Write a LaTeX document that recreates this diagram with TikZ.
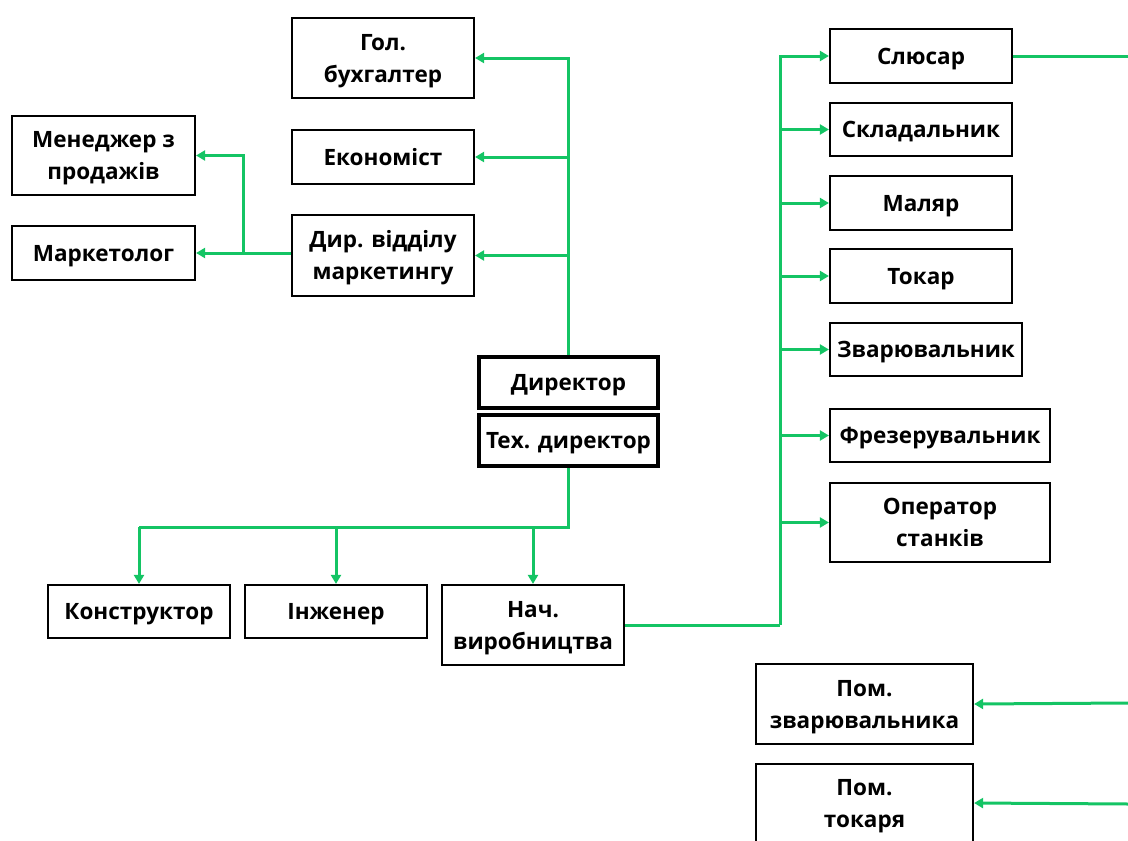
\documentclass[tikz,border=0pt]{standalone}
\usepackage{fontspec}
\setmainfont{Open Sans}
\usetikzlibrary{arrows.meta}
\definecolor{lgreen}{RGB}{20,196,100}
\tikzset{
  box/.style={draw=black, line width=2.2pt, fill=white, align=center, inner sep=0pt,
    font=\fontsize{22.5}{32}\selectfont\bfseries},
  one/.style={box, text height=17pt, text depth=1pt},
  two/.style={box, text height=49pt, text depth=1pt},
  bigbox/.style={one, line width=4.5pt},
  conn/.style={draw=lgreen, line width=3pt},
  arr/.style={conn, -{Triangle[length=9pt,width=10pt]}},
}
\begin{document}
\begin{tikzpicture}[x=1pt,y=-1pt]
\useasboundingbox (0,0) rectangle (1128,841);
% left/top group
\node[two, minimum width=182pt, minimum height=80pt] (gb) at (383,58) {Гол.\\бухгалтер};
\node[one, minimum width=182pt, minimum height=54pt] (eko) at (383,157) {Економіст};
\node[two, minimum width=182pt, minimum height=81pt] (mkt) at (383,255.5) {Дир. відділу\\маркетингу};
\node[two, minimum width=183pt, minimum height=79pt] (man) at (103.5,155.5) {Менеджер з\\продажів};
\node[one, minimum width=183pt, minimum height=54pt] (mark) at (103.5,253) {Маркетолог};
% directors
\node[bigbox, minimum width=179pt, minimum height=51pt] (dir) at (568.5,382.5) {Директор};
\node[bigbox, minimum width=179pt, minimum height=51pt] (tech) at (568.5,440.5) {Тех. директор};
% bottom row
\node[one, minimum width=182pt, minimum height=53pt] (kon) at (139,611.5) {Конструктор};
\node[one, minimum width=182pt, minimum height=53pt] (inz) at (336,611.5) {Інженер};
\node[two, minimum width=182pt, minimum height=80pt] (nach) at (533,625) {Нач.\\виробництва};
% right column
\node[one, minimum width=182pt, minimum height=54pt] (slu) at (921,56) {Слюсар};
\node[one, minimum width=182pt, minimum height=53pt] (skl) at (921,129.5) {Складальник};
\node[one, minimum width=182pt, minimum height=54pt] (mal) at (921,203) {Маляр};
\node[one, minimum width=182pt, minimum height=54pt] (tok) at (921,276) {Токар};
\node[one, minimum width=192pt, minimum height=53pt] (zva) at (926,349.5) {Зварювальник};
\node[one, minimum width=220pt, minimum height=53pt] (fre) at (940,435.5) {Фрезерувальник};
\node[two, minimum width=220pt, minimum height=79pt] (ope) at (940,522.5) {Оператор\\станків};
\node[two, minimum width=217pt, minimum height=80pt] (pz) at (864.5,704) {Пом.\\зварювальника};
\node[two, minimum width=217pt, minimum height=78pt] (pt) at (864.5,803) {Пом.\\токаря};
% coordinates
\coordinate (bus) at (568.5,527);
\coordinate (mb) at (243,253);
\coordinate (tr) at (780,625);
\coordinate (e1) at (1128,56);
\coordinate (e2) at (1128,703);
\coordinate (e3) at (1128,804);
% director to top group
\draw[arr] (dir.north) -- (dir.north |- gb.east) -- (gb.east);
\draw[arr] (dir.north |- eko.east) -- (eko.east);
\draw[arr] (dir.north |- mkt.east) -- (mkt.east);
% marketing
\draw[arr] (mkt.west |- mb) -- (mark.east |- mb);
\draw[arr] (mb) -- (mb |- man.east) -- (man.east);
% tech director to bottom
\draw[conn] (tech.south) -- (bus) -- (kon.north |- bus);
\draw[arr] (kon.north |- bus) -- (kon.north);
\draw[arr] (inz.north |- bus) -- (inz.north);
\draw[arr] (nach.north |- bus) -- (nach.north);
% production trunk
\draw[conn] (nach.east) -- (tr);
\draw[arr] (tr) -- (tr |- slu.west) -- (slu.west);
\draw[arr] (tr |- skl.west) -- (skl.west);
\draw[arr] (tr |- mal.west) -- (mal.west);
\draw[arr] (tr |- tok.west) -- (tok.west);
\draw[arr] (tr |- zva.west) -- (zva.west);
\draw[arr] (tr |- fre.west) -- (fre.west);
\draw[arr] (tr |- ope.west) -- (ope.west);
% off-page lines
\draw[conn] (slu.east) -- (e1);
\draw[arr] (e2) -- (pz.east);
\draw[arr] (e3) -- (pt.east);
\end{tikzpicture}
\end{document}
